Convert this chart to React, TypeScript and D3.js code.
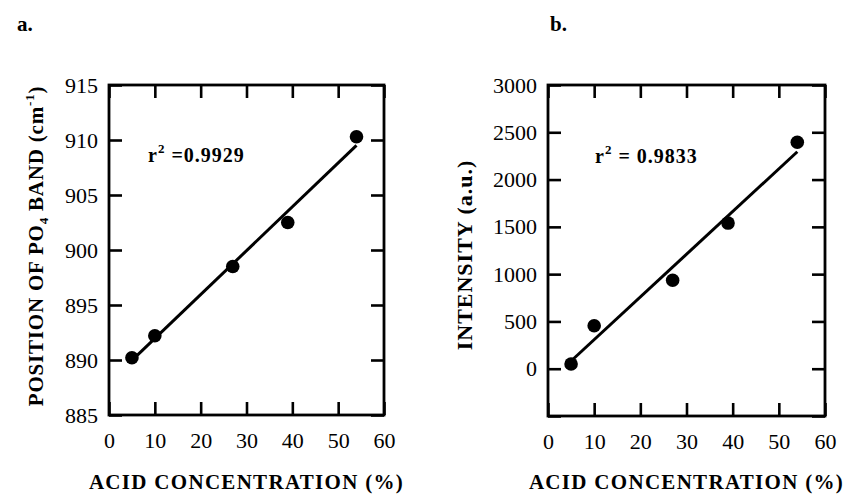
import React, { useEffect, useRef } from 'react';
import * as d3 from 'd3';

// acid concentration (%) of the five samples
const acidConc = [5, 10, 27, 39, 54];
// panel a: position of the PO4 band (cm-1)
const po4Band = [890.2, 892.2, 898.5, 902.5, 910.3];
// panel b: band intensity (a.u.)
const intensity = [50, 455, 935, 1540, 2395];

const xTicks = [0, 10, 20, 30, 40, 50, 60];
const po4Ticks = [885, 890, 895, 900, 905, 910, 915];
const intensityTicks = [-500, 0, 500, 1000, 1500, 2000, 2500, 3000];

const FONT = 'Liberation Serif';

// least squares fit, used for the straight line in each panel
function linFit(xs, ys) {
    const mx = d3.mean(xs);
    const my = d3.mean(ys);
    const sxy = d3.sum(xs, (x, i) => (x - mx) * (ys[i] - my));
    const sxx = d3.sum(xs, x => (x - mx) * (x - mx));
    const slope = sxy / sxx;
    return x => my + slope * (x - mx);
}

const Panel = ({ box, xs, ys, yDomain, yTicks, yLabels, letter, letterX, r2, r2Pos }) => {
    const gRef = useRef();

    useEffect(() => {
        const g = d3.select(gRef.current);
        g.selectAll('*').remove();

        const w = box.right - box.left;
        const h = box.bottom - box.top;

        const xScale = d3.scaleLinear().domain([0, 60]).range([0, w]);
        const yScale = d3.scaleLinear().domain(yDomain).range([h, 0]);

        const plot = g.append('g').attr('transform', `translate(${box.left}, ${box.top})`);

        const styleAxis = sel => {
            sel.attr('font-family', null).attr('font-size', null);
            sel.select('.domain').remove();
            sel.selectAll('.tick line').attr('stroke', '#000').attr('stroke-width', 2.6);
            sel.selectAll('.tick text')
                .attr('fill', '#000')
                .style('font-family', FONT)
                .style('font-size', '22px');
        };

        // left + bottom axes with labels, inward ticks
        plot.append('g')
            .call(d3.axisLeft(yScale).tickValues(yTicks).tickSize(-13).tickPadding(11)
                .tickFormat(d => (yLabels.includes(d) ? d : '')))
            .call(styleAxis);

        plot.append('g')
            .attr('transform', `translate(0, ${h})`)
            .call(d3.axisBottom(xScale).tickValues(xTicks).tickSize(-13).tickPadding(17))
            .call(styleAxis);

        // mirrored ticks on right and top
        plot.append('g')
            .attr('transform', `translate(${w}, 0)`)
            .call(d3.axisRight(yScale).tickValues(yTicks).tickSize(-13).tickFormat(() => ''))
            .call(styleAxis);

        plot.append('g')
            .call(d3.axisTop(xScale).tickValues(xTicks).tickSize(-13).tickFormat(() => ''))
            .call(styleAxis);

        plot.append('rect')
            .attr('width', w)
            .attr('height', h)
            .attr('fill', 'none')
            .attr('stroke', '#000')
            .attr('stroke-width', 2.8);

        // fit line
        const fit = linFit(xs, ys);
        const ends = [d3.min(xs), d3.max(xs)];
        plot.append('path')
            .datum(ends)
            .attr('fill', 'none')
            .attr('stroke', '#000')
            .attr('stroke-width', 3)
            .attr('d', d3.line().x(d => xScale(d)).y(d => yScale(fit(d))));

        plot.selectAll('circle')
            .data(xs)
            .join('circle')
            .attr('cx', d => xScale(d))
            .attr('cy', (d, i) => yScale(ys[i]))
            .attr('r', 6.8)
            .attr('fill', '#000');

        // r squared
        const t = g.append('text')
            .attr('x', r2Pos[0])
            .attr('y', r2Pos[1])
            .style('font-family', FONT)
            .style('font-size', '20px')
            .style('font-weight', 'bold')
            .style('letter-spacing', '1px');
        t.append('tspan').text('r');
        t.append('tspan').attr('dy', -9).style('font-size', '13px').text('2');
        t.append('tspan').attr('dy', 9).text(r2);

        // panel letter
        g.append('text')
            .attr('x', letterX)
            .attr('y', 31)
            .style('font-family', FONT)
            .style('font-size', '21px')
            .style('font-weight', 'bold')
            .text(letter);

        // x title
        g.append('text')
            .attr('x', (box.left + box.right) / 2)
            .attr('y', 489)
            .attr('text-anchor', 'middle')
            .style('font-family', FONT)
            .style('font-size', '21px')
            .style('font-weight', 'bold')
            .style('letter-spacing', '1.3px')
            .text('ACID CONCENTRATION (%)');
    }, [box, xs, ys, yDomain, yTicks, yLabels, letter, letterX, r2, r2Pos]);

    return <g ref={gRef} />;
};

const boxA = { left: 109, right: 384, top: 85, bottom: 415 };
const boxB = { left: 548, right: 825, top: 85, bottom: 416 };

export default function App() {
    return (
        <svg width={851} height={495} style={{ position: 'absolute', left: 0, top: 0, background: '#fff' }}>
            <Panel
                box={boxA}
                xs={acidConc}
                ys={po4Band}
                yDomain={[885, 915]}
                yTicks={po4Ticks}
                yLabels={po4Ticks}
                letter="a."
                letterX={17}
                r2=" =0.9929"
                r2Pos={[148, 162]}
            />
            <Panel
                box={boxB}
                xs={acidConc}
                ys={intensity}
                yDomain={[-500, 3000]}
                yTicks={intensityTicks}
                yLabels={intensityTicks.filter(d => d >= 0)}
                letter="b."
                letterX={550}
                r2=" = 0.9833"
                r2Pos={[595, 163]}
            />
            <text
                transform="translate(43, 246) rotate(-90)"
                textAnchor="middle"
                style={{ fontFamily: FONT, fontSize: '21px', fontWeight: 'bold', letterSpacing: '0.8px' }}
            >
                POSITION OF PO
                <tspan dy={5} style={{ fontSize: '13px' }}>4</tspan>
                <tspan dy={-5}> BAND (cm</tspan>
                <tspan dy={-9} style={{ fontSize: '13px' }}>-1</tspan>
                <tspan dy={9}>)</tspan>
            </text>
            <text
                transform="translate(472, 255) rotate(-90)"
                textAnchor="middle"
                style={{ fontFamily: FONT, fontSize: '22px', fontWeight: 'bold', letterSpacing: '1px' }}
            >
                INTENSITY (a.u.)
            </text>
        </svg>
    );
}
